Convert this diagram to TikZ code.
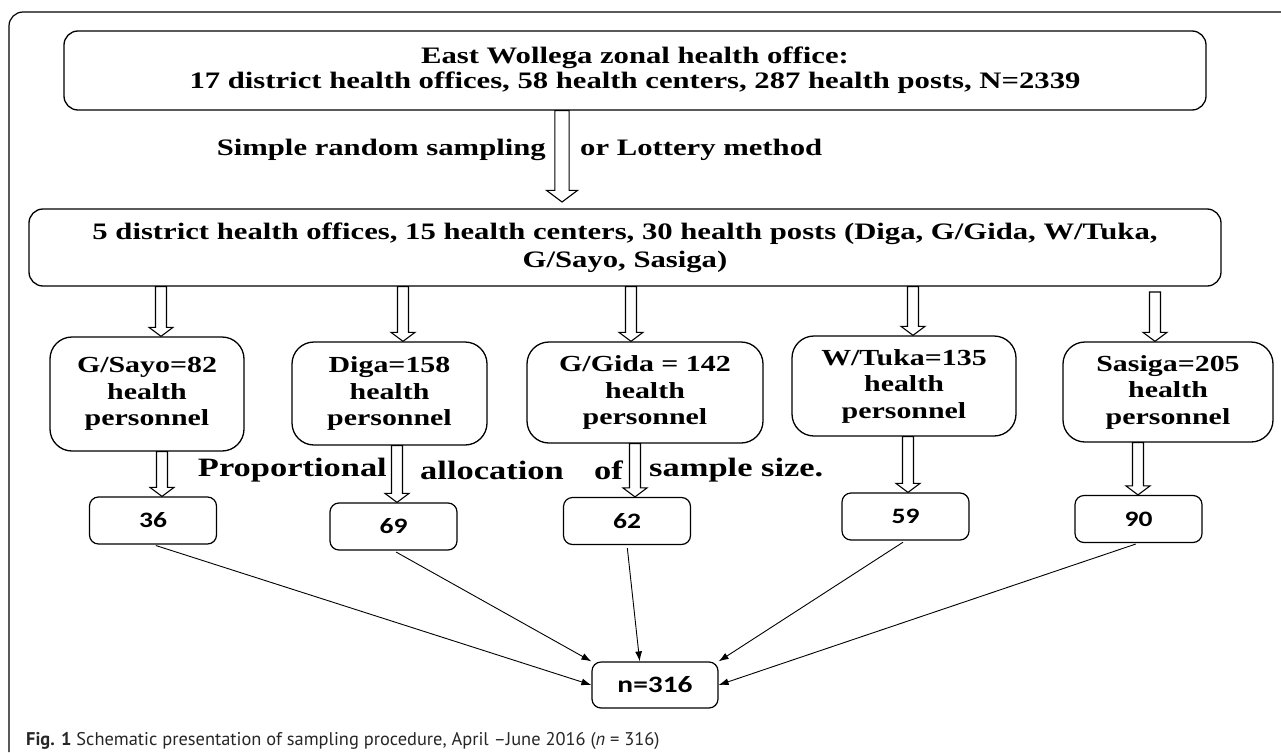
\documentclass[tikz,border=0pt]{standalone}
\usepackage{fontspec}
\setmainfont{Liberation Serif}[FakeStretch=1.3]
\newfontfamily\numfont{Carlito}[FakeStretch=1.25]
\newfontfamily\capfont{PT Sans}
\usetikzlibrary{calc,arrows.meta}

\tikzset{
	bigbox/.style={draw, line width=1.3pt, rounded corners=14pt, align=center, inner sep=0pt,
		font=\bfseries\fontsize{23.6}{25}\selectfont},
	distbox/.style={draw, line width=1.3pt, rounded corners=22pt, align=center, inner sep=0pt,
		font=\bfseries\fontsize{23}{26.5}\selectfont},
	numbox/.style={draw, line width=1.2pt, rounded corners=9pt, inner sep=0pt,
		minimum width=127pt, minimum height=47pt, font=\numfont\bfseries\fontsize{22}{22}\selectfont},
	steplabel/.style={font=\bfseries\fontsize{23.6}{23.6}\selectfont, inner sep=0pt},
	fatline/.style={draw, line width=1.1pt, fill=white},
	sumline/.style={line width=0.9pt, -{Latex[length=10pt,width=7pt]}, shorten <=3pt},
	frameline/.style={line width=1.2pt, rounded corners=14pt}
}

% hollow block arrow from #2 down to #3, #1 scales it
\newcommand{\fatarrow}[3][1]{%
	\draw[fatline] let \p1=(#2), \p2=(#3) in
		(\x1-#1*5.5pt,\y1) -- (\x1-#1*5.5pt,\y2+#1*9pt) -- (\x1-#1*12pt,\y2+#1*9pt) -- (\x1,\y2)
		-- (\x1+#1*12pt,\y2+#1*9pt) -- (\x1+#1*5.5pt,\y2+#1*9pt) -- (\x1+#1*5.5pt,\y1) -- cycle;}

\begin{document}
\begin{tikzpicture}[x=1pt, y=-1pt]
	\useasboundingbox (0,0) rectangle (1281,752);

	\draw[frameline] (9,752) |- (1281,12);

	% the two top levels
	\node[bigbox, minimum width=1142pt, minimum height=79pt] (zone) at (635,70.5)
		{East Wollega zonal health office:\\17 district health offices, 58 health centers, 287 health posts, N=2339};
	\node[bigbox, font=\bfseries\fontsize{23.6}{28}\selectfont, minimum width=1192pt, minimum height=77pt] (sel) at (625,247.5)
		{5 district health offices, 15 health centers, 30 health posts (Diga, G/Gida, W/Tuka,\\G/Sayo, Sasiga)};

	\fatarrow[1.3]{562,0 |- zone.south}{562,202}
	\node[steplabel, anchor=east] (srs) at (546,150) {Simple random sampling};
	\node[steplabel, anchor=west] (lot) at (580,150) {or Lottery method};

	% districts
	\node[distbox, minimum width=194pt, minimum height=114pt] (gsayo) at (147,394) {G/Sayo=82\\health\\personnel};
	\node[distbox, minimum width=195pt, minimum height=103pt] (diga) at (389.5,393.5) {Diga=158\\health\\personnel};
	\node[distbox, minimum width=236pt, minimum height=101pt] (ggida) at (645,392.5) {G/Gida = 142\\health\\personnel};
	\node[distbox, minimum width=224pt, minimum height=100pt] (wtuka) at (904,386) {W/Tuka=135\\health\\personnel};
	\node[distbox, minimum width=210pt, minimum height=100pt] (sasiga) at (1168,392) {Sasiga=205\\health\\personnel};

	\foreach \ax/\dn in {161/gsayo, 403/diga, 631/ggida, 913/wtuka}
		\fatarrow{\ax,0 |- sel.south}{\ax,0 |- \dn.north};
	\fatarrow{1155,292}{1155,0 |- sasiga.north}

	% sample sizes
	\node[numbox] (s36) at (153,520.5) {36};
	\node[numbox] (s69) at (393.5,526.5) {69};
	\node[numbox] (s62) at (627,521) {62};
	\node[numbox] (s59) at (905.5,516.5) {59};
	\node[numbox] (s90) at (1138.5,519) {90};

	\foreach \ax/\dn/\sn in {162/gsayo/s36, 397/diga/s69, 635/ggida/s62, 908/wtuka/s59, 1138/sasiga/s90}
		\fatarrow{\ax,0 |- \dn.south}{\ax,0 |- \sn.north};

	\node[steplabel, font=\bfseries\fontsize{26.5}{26.5}\selectfont, anchor=east] (prop) at (387,470) {Proportional};
	\node[steplabel, font=\bfseries\fontsize{26.5}{26.5}\selectfont, anchor=west] (alloc) at (420,470) {allocation};
	\node[steplabel, font=\bfseries\fontsize{26.5}{26.5}\selectfont, anchor=west] (of) at (594,470) {of};
	\node[steplabel, font=\bfseries\fontsize{26.5}{26.5}\selectfont, anchor=west] (size) at (649,470) {sample size.};

	% total
	\node[numbox, minimum width=126pt, minimum height=46pt, font=\numfont\bfseries\fontsize{23.5}{23.5}\selectfont] (total) at (655,685) {n=316};

	\draw[sumline] (s36.south) -- (total.west);
	\draw[sumline] (s69.south) -- (total.north west);
	\draw[sumline] (s62.south) -- (total.123);
	\draw[sumline] (s59.south) -- (total.north east);
	\draw[sumline] (s90.south) -- (total.east);

	\node[anchor=west, inner sep=0pt, text=black!85, font=\capfont\fontsize{18.4}{18.4}\selectfont] (cap) at (26,741)
		{\textbf{Fig. 1} Schematic presentation of sampling procedure, April –June 2016 (\textit{n} = 316)};
\end{tikzpicture}
\end{document}
